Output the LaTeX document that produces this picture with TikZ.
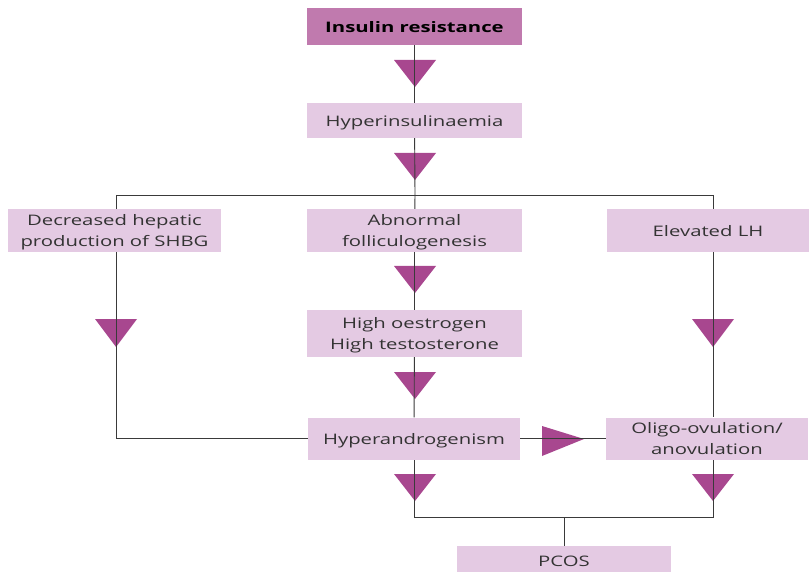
\documentclass[tikz,border=0pt]{standalone}
\usepackage{fontspec}
\setmainfont{Open Sans}[FakeStretch=1.4]
\usetikzlibrary{calc}
\definecolor{dark}{HTML}{C07AAE}
\definecolor{light}{HTML}{E4CAE3}
\definecolor{tri}{HTML}{A8478F}
\definecolor{txt}{HTML}{333333}
\definecolor{ln}{HTML}{3A3A3A}
\pgfdeclarelayer{trilayer}
\pgfdeclarelayer{linelayer}
\pgfsetlayers{trilayer,linelayer,main}
\newcommand\boxtext[1]{\raisebox{-1.5pt}[\height][\depth]{\begin{tabular}{@{}c@{}}#1\end{tabular}}}
\tikzset{
  box/.style={rectangle, fill=light, text=txt, font=\fontsize{14.5}{21}\selectfont, inner sep=0pt},
  topbox/.style={box, fill=dark, text=black, font=\fontsize{14.5}{21}\selectfont\bfseries},
  conn/.style={draw=ln, line width=0.9pt},
  arrowtri/.style={fill=tri}
}
\begin{document}
\begin{tikzpicture}[x=1pt,y=-1pt]
\useasboundingbox (0,0) rectangle (809,572);
% boxes
\node[topbox, minimum width=215pt, minimum height=37pt] (ir) at (414.5,26.5) {\boxtext{Insulin resistance}};
\node[box, minimum width=215pt, minimum height=35pt] (hi) at (414.5,120.5) {\boxtext{Hyperinsulinaemia}};
\node[box, minimum width=213pt, minimum height=43pt] (dh) at (114.5,230.5) {\boxtext{Decreased hepatic\\production of SHBG}};
\node[box, minimum width=215pt, minimum height=43pt] (af) at (414.5,230.5) {\boxtext{Abnormal\\folliculogenesis}};
\node[box, minimum width=202pt, minimum height=43pt] (el) at (708,230.5) {\boxtext{Elevated LH}};
\node[box, minimum width=215pt, minimum height=47pt] (ho) at (414.5,333.5) {\boxtext{High oestrogen\\High testosterone}};
\node[box, minimum width=212pt, minimum height=42pt] (ha) at (414,438.5) {\boxtext{Hyperandrogenism}};
\node[box, minimum width=202pt, minimum height=42pt] (oa) at (707,438.5) {\boxtext{Oligo-ovulation/\\anovulation}};
\node[box, minimum width=214pt, minimum height=30pt, anchor=north] (pcos) at (564,546) {\boxtext{PCOS}};
% junction coordinates
\coordinate (jc) at (415,195);
\coordinate (jl) at (116,195);
\coordinate (jr) at (713,195);
\coordinate (jb) at (564,517);
% connectors
\begin{pgfonlayer}{linelayer}
\draw[conn] (ir) -- (hi);
\draw[conn] (hi) -- (jc);
\draw[conn] (jl) -- (jr);
\draw[conn] (jc) -- (af);
\draw[conn] (af) -- (ho);
\draw[conn] (ho) -- (ha);
\draw[conn] (jl) |- (ha.west);
\draw[conn] (jr) -- (jr |- oa.north);
\draw[conn] (ha.east) -- (ha.east -| oa.west);
\draw[conn] (ha.south) |- (jb);
\draw[conn] (jr |- oa.south) |- (jb);
\draw[conn] (jb) -- (pcos.north);
\end{pgfonlayer}
% arrowheads
\begin{pgfonlayer}{trilayer}
\fill[arrowtri] (394,60) -- (436,60) -- (415,87) -- cycle;
\fill[arrowtri] (394,153) -- (436,153) -- (415,180) -- cycle;
\fill[arrowtri] (95,319) -- (137,319) -- (116,347) -- cycle;
\fill[arrowtri] (394,266) -- (436,266) -- (415,293) -- cycle;
\fill[arrowtri] (692,319) -- (734,319) -- (713,347) -- cycle;
\fill[arrowtri] (394,372) -- (436,372) -- (415,399) -- cycle;
\fill[arrowtri] (542,426) -- (584,439) -- (542,456) -- cycle;
\fill[arrowtri] (394,474) -- (436,474) -- (415,501) -- cycle;
\fill[arrowtri] (692,474) -- (734,474) -- (713,501) -- cycle;
\end{pgfonlayer}
\end{tikzpicture}
\end{document}
